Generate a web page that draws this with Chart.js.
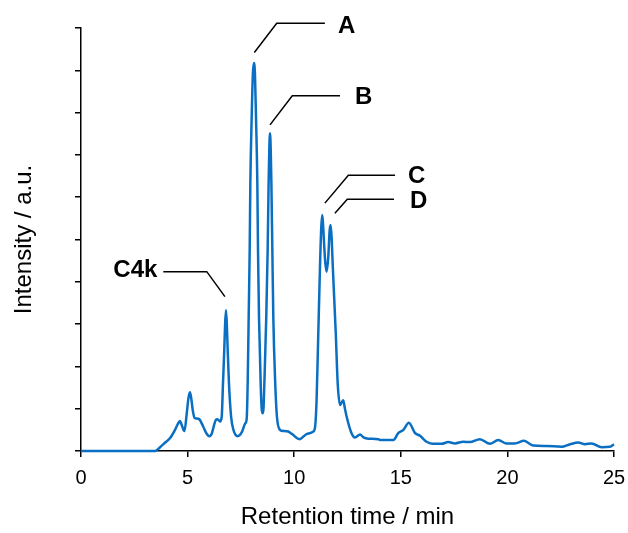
<!DOCTYPE html>
<html>
<head>
<meta charset="utf-8">
<script src="https://cdn.jsdelivr.net/npm/chart.js@4/dist/chart.umd.min.js"></script>
<style>
  body{margin:0;background:#fff;}
  canvas{display:block;}
</style>
</head>
<body>
<canvas id="chrom" width="628" height="533"></canvas>
<script>
// ================= Data =================
const retentionTimes=[0,1,2,3,3.47,3.71,3.95,4.17,4.41,4.55,4.64,4.72,4.85,4.96,5.04,5.11,5.17,5.24,5.33,5.42,5.55,5.73,5.88,6.02,6.14,6.24,6.32,6.40,6.52,
  6.60,6.66,6.72,6.76,6.80,6.84,6.88,6.94,7.04,7.15,7.35,7.55,7.70,7.77,
  7.818,7.865,7.912,7.943,8.006,8.06,8.11,8.16,8.208,8.271,8.302,8.349,8.427,8.474,8.52,
  8.56,8.60,8.69,8.755,8.80,8.83,8.865,8.90,8.93,8.975,9.02,9.11,9.19,9.33,9.41,9.72,9.90,10.24,10.58,10.90,10.98,
  11.05,11.13,11.21,11.27,11.32,11.37,11.45,11.52,11.60,11.66,11.71,11.76,11.81,11.95,12.04,12.15,12.23,12.30,12.38,12.46,12.69,12.85,
  13.09,13.25,13.48,13.95,14.02,14.65,14.88,15.12,15.38,15.66,15.90,16.21,16.52,16.91,17.22,17.54,17.93,18.24,18.71,19.18,19.57,19.96,
  20.35,20.78,21.21,21.84,22.54,22.94,23.32,23.64,23.95,24.42,24.81,25.0];
const intensity=[0,0,0,0,0,0.09,0.2,0.3,0.5,0.65,0.71,0.62,0.47,0.89,1.25,1.39,1.25,0.97,0.78,0.77,0.75,0.58,0.42,0.35,0.42,0.61,0.73,0.75,0.70,
  0.81,1.6,2.39,3.0,3.33,3.0,2.39,1.6,0.81,0.5,0.35,0.45,0.65,0.75,
  1.6,3.17,4.75,6.33,7.9,8.9,9.17,8.9,7.9,6.33,4.75,3.17,1.6,1.0,0.89,
  1.0,1.6,3.17,4.75,6.33,7.1,7.51,7.1,6.33,4.75,3.17,1.6,0.81,0.5,0.48,0.46,0.4,0.28,0.4,0.46,0.57,
  1.2,2.78,4.36,5.3,5.58,5.2,4.5,4.24,4.6,5.2,5.34,5.0,4.36,2.78,1.6,1.09,1.15,1.2,1.0,0.81,0.42,0.32,
  0.39,0.32,0.29,0.28,0.26,0.26,0.42,0.5,0.67,0.43,0.36,0.22,0.17,0.17,0.21,0.18,0.22,0.21,0.28,0.17,0.26,0.18,
  0.18,0.24,0.13,0.12,0.10,0.16,0.20,0.16,0.18,0.09,0.10,0.16];
const xTicks=[0,5,10,15,20,25];

// peak labels and their leader lines, in data units
const peakNames=['A','B','C','D','C4k'];
const leaderPaths=[
  [[8.13,9.42],[9.18,10.11],[11.44,10.11]],
  [[8.865,7.71],[9.91,8.40],[12.15,8.40]],
  [[11.44,5.86],[12.54,6.52],[14.73,6.52]],
  [[11.91,5.62],[12.49,5.95],[14.68,5.95]],
  [[6.75,3.65],[5.90,4.24],[3.86,4.24]]
];
const labelAnchors=[[12.05,10.05],[12.85,8.37],[15.34,6.49],[15.43,5.91],[3.58,4.28]];
const labelAlign=['left','left','left','left','right'];

// ================= Chart =================
const FONT='"Liberation Sans", Arial, sans-serif';

const callouts={
  id:'callouts',
  afterDatasetsDraw(chart){
    const {ctx,scales:{x,y}}=chart;
    ctx.save();
    ctx.strokeStyle='#000'; ctx.lineWidth=1.5;
    leaderPaths.forEach(path=>{
      ctx.beginPath();
      path.forEach((p,i)=>{
        const px=x.getPixelForValue(p[0]), py=y.getPixelForValue(p[1]);
        if(i===0) ctx.moveTo(px,py); else ctx.lineTo(px,py);
      });
      ctx.stroke();
    });
    ctx.fillStyle='#000';
    ctx.font='bold 24px '+FONT;
    ctx.textBaseline='middle';
    peakNames.forEach((n,i)=>{
      ctx.textAlign=labelAlign[i];
      ctx.fillText(n,x.getPixelForValue(labelAnchors[i][0]),y.getPixelForValue(labelAnchors[i][1]));
    });
    ctx.restore();
  }
};

new Chart(document.getElementById('chrom'),{
  type:'line',
  data:{
    datasets:[{
      data:retentionTimes.map((t,i)=>({x:t,y:intensity[i]})),
      borderColor:'#0a6fc2',
      borderWidth:2.5,
      pointRadius:0,
      fill:false,
      cubicInterpolationMode:'monotone',
      clip:false
    }]
  },
  options:{
    responsive:false,
    animation:false,
    layout:{padding:{top:28,right:14,left:0,bottom:0}},
    plugins:{legend:{display:false},tooltip:{enabled:false}},
    scales:{
      x:{
        type:'linear',min:0,max:25,
        afterBuildTicks:s=>{s.ticks=xTicks.map(v=>({value:v}));},
        afterFit:s=>{s.height=82;s.paddingLeft=0;s.paddingRight=0;},
        border:{color:'#000',width:1.5},
        grid:{drawOnChartArea:false,color:'#000',lineWidth:1.5,tickLength:6},
        ticks:{color:'#000',padding:9,font:{family:FONT,size:20},maxRotation:0},
        title:{display:true,text:'Retention time / min',color:'#000',font:{family:FONT,size:24},padding:{top:0,bottom:1}}
      },
      y:{
        min:0,max:10,
        afterFit:s=>{s.width=81;s.paddingTop=0;s.paddingBottom=0;},
        border:{color:'#000',width:1.5},
        grid:{drawOnChartArea:false,color:'#000',lineWidth:1.5,tickLength:6},
        ticks:{stepSize:1,callback:()=>'',padding:0},
        title:{display:true,text:'Intensity / a.u.',color:'#000',font:{family:FONT,size:24},padding:{top:10,bottom:0}}
      }
    }
  },
  plugins:[callouts]
});
</script>
</body>
</html>
